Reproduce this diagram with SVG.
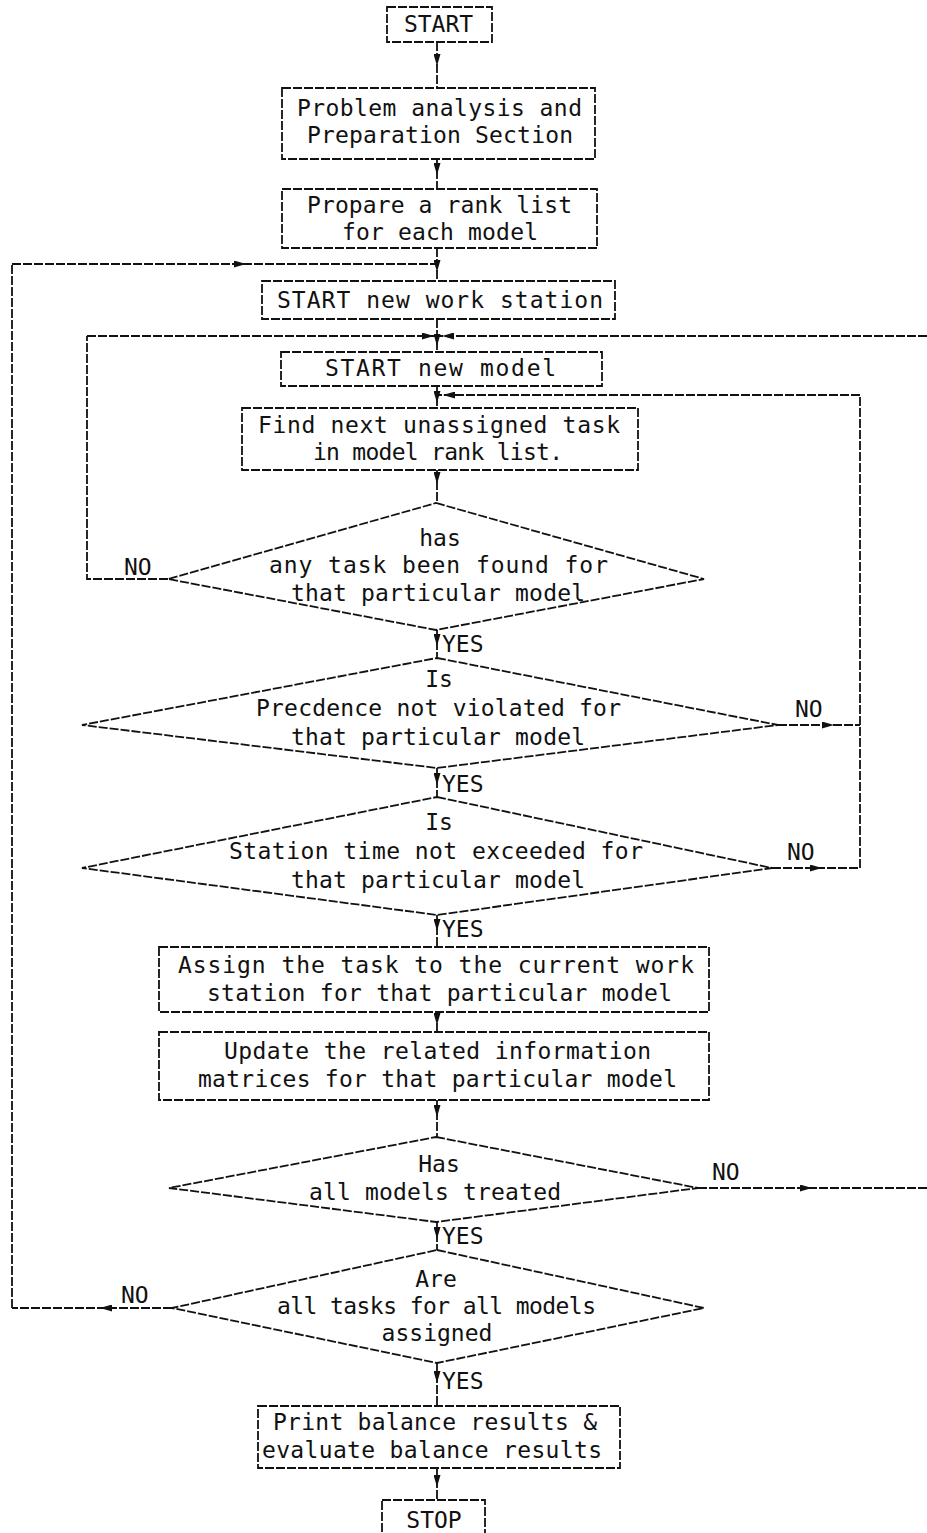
<svg xmlns="http://www.w3.org/2000/svg" width="927" height="1533" viewBox="0 0 927 1533">
<defs>
<marker id="ah" viewBox="0 0 12 7" refX="12" refY="3.5" markerWidth="12" markerHeight="7" markerUnits="userSpaceOnUse" orient="auto"><path d="M0,0 L12,3.5 L0,7 z" fill="#111"/></marker>
<style>
.s{fill:none;stroke:#111;stroke-width:1.8;stroke-dasharray:9 2}
.a{marker-mid:url(#ah)}
text{font-family:"DejaVu Sans Mono","Liberation Mono",monospace;font-size:23px;fill:#111;text-anchor:middle}
.l{text-anchor:start}
</style>
</defs>
<rect width="927" height="1533" fill="#fff"/>
<g id="connectors">
<path class="s a" d="M437,42 V66 V88"/>
<path class="s a" d="M437,159 V175 V188"/>
<path class="s a" d="M437,248 V272 V281"/>
<path class="s a" d="M172,1308 H100 H12"/>
<path class="s" d="M12,1308 V264"/>
<path class="s a" d="M12,264 H246 H437"/>
<path class="s a" d="M437,319 V346 V352"/>
<path class="s" d="M168,579 H87 V336"/>
<path class="s a" d="M87,336 H434 H437"/>
<path class="s a" d="M698,1188 H812 H927"/>
<path class="s a" d="M927,336 H442 H437"/>
<path class="s a" d="M437,386 V403 V408"/>
<path class="s a" d="M778,725 H834 H860"/>
<path class="s a" d="M772,868 H822 H860"/>
<path class="s" d="M860,868 V395"/>
<path class="s a" d="M860,395 H443 H437"/>
<path class="s a" d="M437,470 V484 V503"/>
<path class="s a" d="M437,630 V646 V658"/>
<path class="s a" d="M437,768 V785 V797"/>
<path class="s a" d="M437,915 V931 V947"/>
<path class="s a" d="M437,1012 V1025 V1032"/>
<path class="s a" d="M437,1100 V1117 V1137"/>
<path class="s a" d="M437,1222 V1239 V1250"/>
<path class="s a" d="M437,1363 V1383 V1406"/>
<path class="s a" d="M437,1468 V1487 V1500"/>
<text class="l" x="442" y="652">YES</text>
<text class="l" x="442" y="792">YES</text>
<text class="l" x="442" y="937">YES</text>
<text class="l" x="442" y="1244">YES</text>
<text class="l" x="442" y="1389">YES</text>
<text class="l" x="124" y="575">NO</text>
<text class="l" x="795" y="717">NO</text>
<text class="l" x="787" y="860">NO</text>
<text class="l" x="712" y="1180">NO</text>
<text class="l" x="121" y="1303">NO</text>
</g>
<g id="start">
<rect class="s" x="387" y="7" width="105" height="35"/>
<text x="438.5" y="32">START</text>
</g>
<g id="problem-analysis">
<rect class="s" x="282" y="88" width="313" height="71"/>
<text x="439.5" y="116" textLength="285" lengthAdjust="spacing">Problem analysis and</text>
<text x="440" y="143" textLength="266" lengthAdjust="spacing">Preparation Section</text>
</g>
<g id="rank-list">
<rect class="s" x="282" y="189" width="315" height="59"/>
<text x="439.5" y="213" textLength="265" lengthAdjust="spacing">Propare a rank list</text>
<text x="440" y="240" textLength="196" lengthAdjust="spacing">for each model</text>
</g>
<g id="new-station">
<rect class="s" x="262" y="281" width="353" height="38"/>
<text x="440" y="308" textLength="326" lengthAdjust="spacing">START new work station</text>
</g>
<g id="new-model">
<rect class="s" x="281" y="352" width="321" height="34"/>
<text x="440.5" y="376" textLength="231" lengthAdjust="spacing">START new model</text>
</g>
<g id="find-task">
<rect class="s" x="242" y="408" width="396" height="62"/>
<text x="439" y="433" textLength="362" lengthAdjust="spacing">Find next unassigned task</text>
<text x="438" y="460" textLength="250" lengthAdjust="spacing">in model rank list.</text>
</g>
<g id="task-found">
<polygon class="s" points="436,503 704,579 436,630 168,579"/>
<text x="440" y="546">has</text>
<text x="438.5" y="573" textLength="339" lengthAdjust="spacing">any task been found for</text>
<text x="438" y="601" textLength="294" lengthAdjust="spacing">that particular model</text>
</g>
<g id="precedence">
<polygon class="s" points="437,658 778,725 437,768 82,725"/>
<text x="439" y="687">Is</text>
<text x="438.5" y="716" textLength="365" lengthAdjust="spacing">Precdence not violated for</text>
<text x="438" y="745" textLength="294" lengthAdjust="spacing">that particular model</text>
</g>
<g id="station-time">
<polygon class="s" points="437,797 772,868 437,915 82,868"/>
<text x="439" y="830">Is</text>
<text x="436" y="859" textLength="414" lengthAdjust="spacing">Station time not exceeded for</text>
<text x="438" y="888" textLength="294" lengthAdjust="spacing">that particular model</text>
</g>
<g id="assign-task">
<rect class="s" x="159" y="947" width="550" height="65"/>
<text x="436" y="973" textLength="516" lengthAdjust="spacing">Assign the task to the current work</text>
<text x="439.5" y="1001" textLength="465" lengthAdjust="spacing">station for that particular model</text>
</g>
<g id="update-matrices">
<rect class="s" x="159" y="1032" width="550" height="68"/>
<text x="437.5" y="1059" textLength="427" lengthAdjust="spacing">Update the related information</text>
<text x="437.5" y="1087" textLength="479" lengthAdjust="spacing">matrices for that particular model</text>
</g>
<g id="models-treated">
<polygon class="s" points="436,1137 698,1188 436,1222 169,1188"/>
<text x="439" y="1172">Has</text>
<text x="435" y="1200" textLength="252" lengthAdjust="spacing">all models treated</text>
</g>
<g id="tasks-assigned">
<polygon class="s" points="437,1250 704,1308 437,1363 172,1308"/>
<text x="436" y="1287">Are</text>
<text x="436.5" y="1314" textLength="319" lengthAdjust="spacing">all tasks for all models</text>
<text x="437" y="1341">assigned</text>
</g>
<g id="print-results">
<rect class="s" x="258" y="1406" width="362" height="62"/>
<text x="435" y="1430" textLength="324" lengthAdjust="spacing">Print balance results &amp;</text>
<text x="432" y="1458" textLength="340" lengthAdjust="spacing">evaluate balance results</text>
</g>
<g id="stop">
<rect class="s" x="382" y="1500" width="103" height="45"/>
<text x="434" y="1528">STOP</text>
</g>
</svg>
